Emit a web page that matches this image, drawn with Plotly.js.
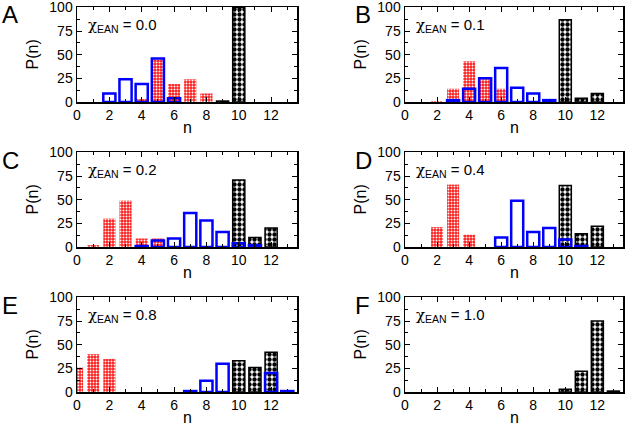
<!DOCTYPE html>
<html>
<head>
<meta charset="utf-8">
<script src="https://cdn.plot.ly/plotly-3.0.1.min.js"></script>
<style>
  html, body { margin: 0; padding: 0; background: #fff; }
  #plot { width: 625px; height: 425px; }
</style>
</head>
<body>
<div id="plot"></div>
<script>
// panel labels and mole fractions
const panels = ["A", "B", "C", "D", "E", "F"];
const chiValues = ["0.0", "0.1", "0.2", "0.4", "0.8", "1.0"];

// red (grid pattern) bars per panel
const redN = [[4, 5, 6, 7, 8], [2, 3, 4, 5, 6], [1, 2, 3, 4, 5], [2, 3, 4], [0, 1, 2], []];
const redP = [[3, 45, 19, 24, 9], [1, 14, 43, 24, 14], [2, 30, 49, 9, 9], [21, 66, 13], [26, 40, 35], []];

// blue (open) bars per panel
const blueN = [[2, 3, 4, 5, 6], [3, 4, 5, 6, 7, 8, 9], [4, 5, 6, 7, 8, 9, 10, 11], [6, 7, 8, 9, 10, 11], [7, 8, 9, 12, 13], []];
const blueP = [[9, 24, 19, 46, 4], [2, 14, 25, 36, 15, 9, 2], [1, 7, 9, 36, 28, 16, 4, 2], [10, 49, 16, 20, 8, 1], [1, 12, 30, 20, 1], []];

// black (checkered) bars per panel
const blackN = [[9, 10], [10, 11, 12], [10, 11, 12], [10, 11, 12], [10, 11, 12], [10, 11, 12, 13]];
const blackP = [[1, 100], [87, 4, 9], [71, 10, 20], [65, 14, 22], [33, 26, 42], [3, 22, 75, 1]];

const xTicks = [0, 2, 4, 6, 8, 10, 12];
const yTicks = [0, 25, 50, 75, 100];

const W = 625, H = 425;
const px = x => x / W;
const py = y => 1 - y / H;

// pixel boxes of each plot area [left, right], [top, bottom]
const colX = [[77, 297], [405, 623]];
const rowY = [[7, 102], [152, 247], [297, 392]];

const font = "Liberation Sans, Arial, sans-serif";
let data = [];
let layout = {
    width: W,
    height: H,
    margin: { l: 0, r: 0, t: 0, b: 0 },
    paper_bgcolor: "white",
    plot_bgcolor: "white",
    showlegend: false,
    barmode: "overlay",
    font: { family: font, size: 14, color: "black" },
    annotations: []
};

for (let i = 0; i < 6; i++) {
    const col = i % 2, row = Math.floor(i / 2);
    const sfx = i === 0 ? "" : String(i + 1);
    const xa = "x" + sfx, ya = "y" + sfx;

    data.push({
        type: "bar", x: redN[i], y: redP[i], xaxis: xa, yaxis: ya, width: 0.75,
        marker: {
            color: "#ff1a1a",
            line: { width: 0 },
            pattern: { shape: ".", fgcolor: "white", bgcolor: "#ff1a1a", size: 3, solidity: 0.35 }
        }
    });
    data.push({
        type: "bar", x: blackN[i], y: blackP[i], xaxis: xa, yaxis: ya, width: 0.75,
        marker: {
            color: "white",
            line: { color: "black", width: 1.5 },
            pattern: { shape: ".", fgcolor: "black", bgcolor: "white", size: 5, solidity: 0.6 }
        }
    });
    data.push({
        type: "bar", x: blueN[i], y: blueP[i], xaxis: xa, yaxis: ya, width: 0.75,
        marker: { color: "rgba(0,0,0,0)", line: { color: "#0000ff", width: 2.5 } }
    });

    const axCommon = {
        showline: true, linecolor: "black", linewidth: 1.5, mirror: "allticks",
        ticks: "inside", ticklen: 5, tickwidth: 1, tickcolor: "black",
        showgrid: false, zeroline: false, fixedrange: true,
        ticklabeloverflow: "allow",
        tickfont: { family: font, size: 14, color: "black" }
    };
    layout["xaxis" + sfx] = Object.assign({}, axCommon, {
        domain: [px(colX[col][0]), px(colX[col][1])],
        range: [0, 13.6], anchor: ya,
        tickvals: xTicks,
        minor: { dtick: 1, ticks: "inside", ticklen: 3, tickcolor: "black" }
    });
    layout["yaxis" + sfx] = Object.assign({}, axCommon, {
        domain: [py(rowY[row][1]), py(rowY[row][0])],
        range: [0, 100.5], anchor: xa,
        tickvals: yTicks,
        minor: { dtick: 12.5, ticks: "inside", ticklen: 3, tickcolor: "black" }
    });

    const left = colX[col][0], right = colX[col][1];
    const top = rowY[row][0], bottom = rowY[row][1];

    // panel letter
    layout.annotations.push({
        xref: "paper", yref: "paper", x: px(left - 77 + (col ? 25 : 0)), y: py(top + 8),
        xanchor: "left", yanchor: "middle", showarrow: false,
        text: panels[i], font: { size: 24, family: font }
    });
    // chi label (chi glyph from DejaVu for a proper greek shape)
    layout.annotations.push({
        xref: "paper", yref: "paper", x: px(left + 9), y: py(top + 18),
        xanchor: "left", yanchor: "middle", showarrow: false,
        text: "<span style=\"font-family:DejaVu Serif\">χ</span><sub>EAN</sub> = " + chiValues[i],
        font: { size: 15, family: font }
    });
    // y title
    layout.annotations.push({
        xref: "paper", yref: "paper", x: px(left - 45), y: py((top + bottom) / 2),
        xanchor: "center", yanchor: "middle", showarrow: false, textangle: -90,
        text: "P(n)", font: { size: 16, family: font }
    });
    // x title
    layout.annotations.push({
        xref: "paper", yref: "paper", x: px((left + right) / 2), y: py(bottom + 25),
        xanchor: "center", yanchor: "middle", showarrow: false,
        text: "n", font: { size: 16, family: font }
    });
}

Plotly.newPlot("plot", data, layout, { displayModeBar: false, staticPlot: true });
</script>
</body>
</html>
